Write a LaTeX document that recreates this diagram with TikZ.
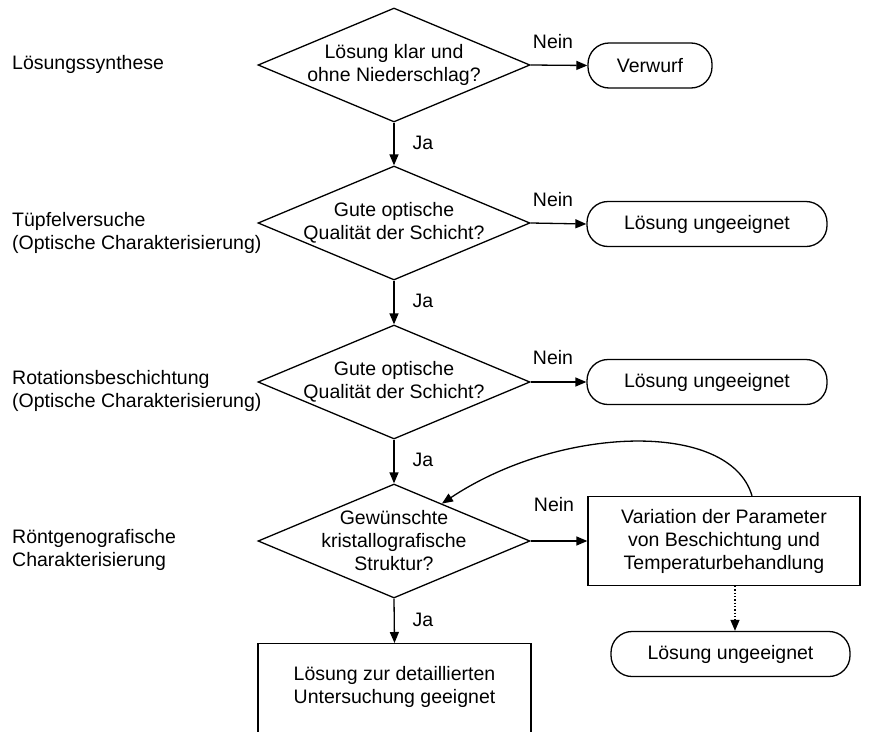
\documentclass[tikz,border=0pt]{standalone}
\usepackage{fontspec}
\setmainfont{Liberation Sans}
\usetikzlibrary{shapes.geometric,arrows.meta,calc}
\begin{document}
\begin{tikzpicture}[x=1pt,y=-1pt,
  every node/.style={font=\fontsize{19.5}{23}\selectfont, inner sep=0pt},
  dia/.style={draw, shape=diamond, minimum width=272, minimum height=114, line width=1.3pt},
  term/.style={draw, rectangle, rounded corners=21pt, minimum height=45, line width=1.3pt},
  boxn/.style={draw, rectangle, line width=1.3pt},
  txt/.style={align=center},
  lbl/.style={align=left, anchor=west},
  arr/.style={line width=1.3pt, -{Triangle[length=11pt,width=9pt]}}
]
\useasboundingbox (0,0) rectangle (870,731);

% left labels
\node[lbl] (l1) at (12,64) {Lösungssynthese};
\node[lbl] (l2) at (12,233) {Tüpfelversuche\\(Optische Charakterisierung)};
\node[lbl] (l3) at (12,391) {Rotationsbeschichtung\\(Optische Charakterisierung)};
\node[lbl] (l4) at (12,550) {Röntgenografische\\Charakterisierung};

% diamonds
\node[dia] (d1) at (394,65) {};
\node[txt] (d1t) at (394,65) {Lösung klar und\\ohne Niederschlag?};
\node[dia] (d2) at (394,223) {};
\node[txt] (d2t) at (394,223) {Gute optische\\Qualität der Schicht?};
\node[dia] (d3) at (394,382) {};
\node[txt] (d3t) at (394,382) {Gute optische\\Qualität der Schicht?};
\node[dia] (d4) at (394,541) {};
\node[txt] (d4t) at (394,541) {Gewünschte\\kristallografische\\Struktur?};

% terminals
\node[term, minimum width=124] (t1) at (650,65.5) {Verwurf};
\node[term, minimum width=240] (t2) at (707,224) {Lösung ungeeignet};
\node[term, minimum width=240] (t3) at (707,382) {Lösung ungeeignet};
\node[term, minimum width=239] (t4) at (730.5,654) {Lösung ungeeignet};

% boxes
\node[boxn, minimum width=272, minimum height=89] (var) at (724,541) {};
\node[txt] (vart) at (724,541) {Variation der Parameter\\von Beschichtung und\\Temperaturbehandlung};
\node[boxn, minimum width=273, minimum height=110, anchor=north] (ende) at (394.5,643) {};
\node[txt] (endet) at (394.5,687) {Lösung zur detaillierten\\Untersuchung geeignet};

% vertical Ja arrows
\draw[arr] (d1.south) -- (d2.north);
\draw[arr] (d2.south) -- (d3.north);
\draw[arr] (d3.south) -- (d4.north);
\draw[arr] (d4.south) -- (ende.north);
\node (ja1) at (423,143) {Ja};
\node (ja2) at (423,301) {Ja};
\node (ja3) at (423,460) {Ja};
\node (ja4) at (423,620) {Ja};

% Nein arrows
\draw[arr] (d1.east) -- (t1.west);
\draw[arr] (d2.east) -- (t2.west);
\draw[arr] (d3.east) -- (t3.west);
\draw[arr] (d4.east) -- (var.west);
\node (n1) at (553,42) {Nein};
\node (n2) at (553,200) {Nein};
\node (n3) at (553,358) {Nein};
\node (n4) at (554,505) {Nein};

% feedback curve
\coordinate (cs) at (752,0);
\draw[arr] (var.north -| cs) .. controls (730,420) and (560,425) .. (d4.38);

% dotted arrow
\coordinate (dx) at (735,0);
\draw[arr, dotted] (var.south -| dx) -- (t4.north -| dx);
\end{tikzpicture}
\end{document}
